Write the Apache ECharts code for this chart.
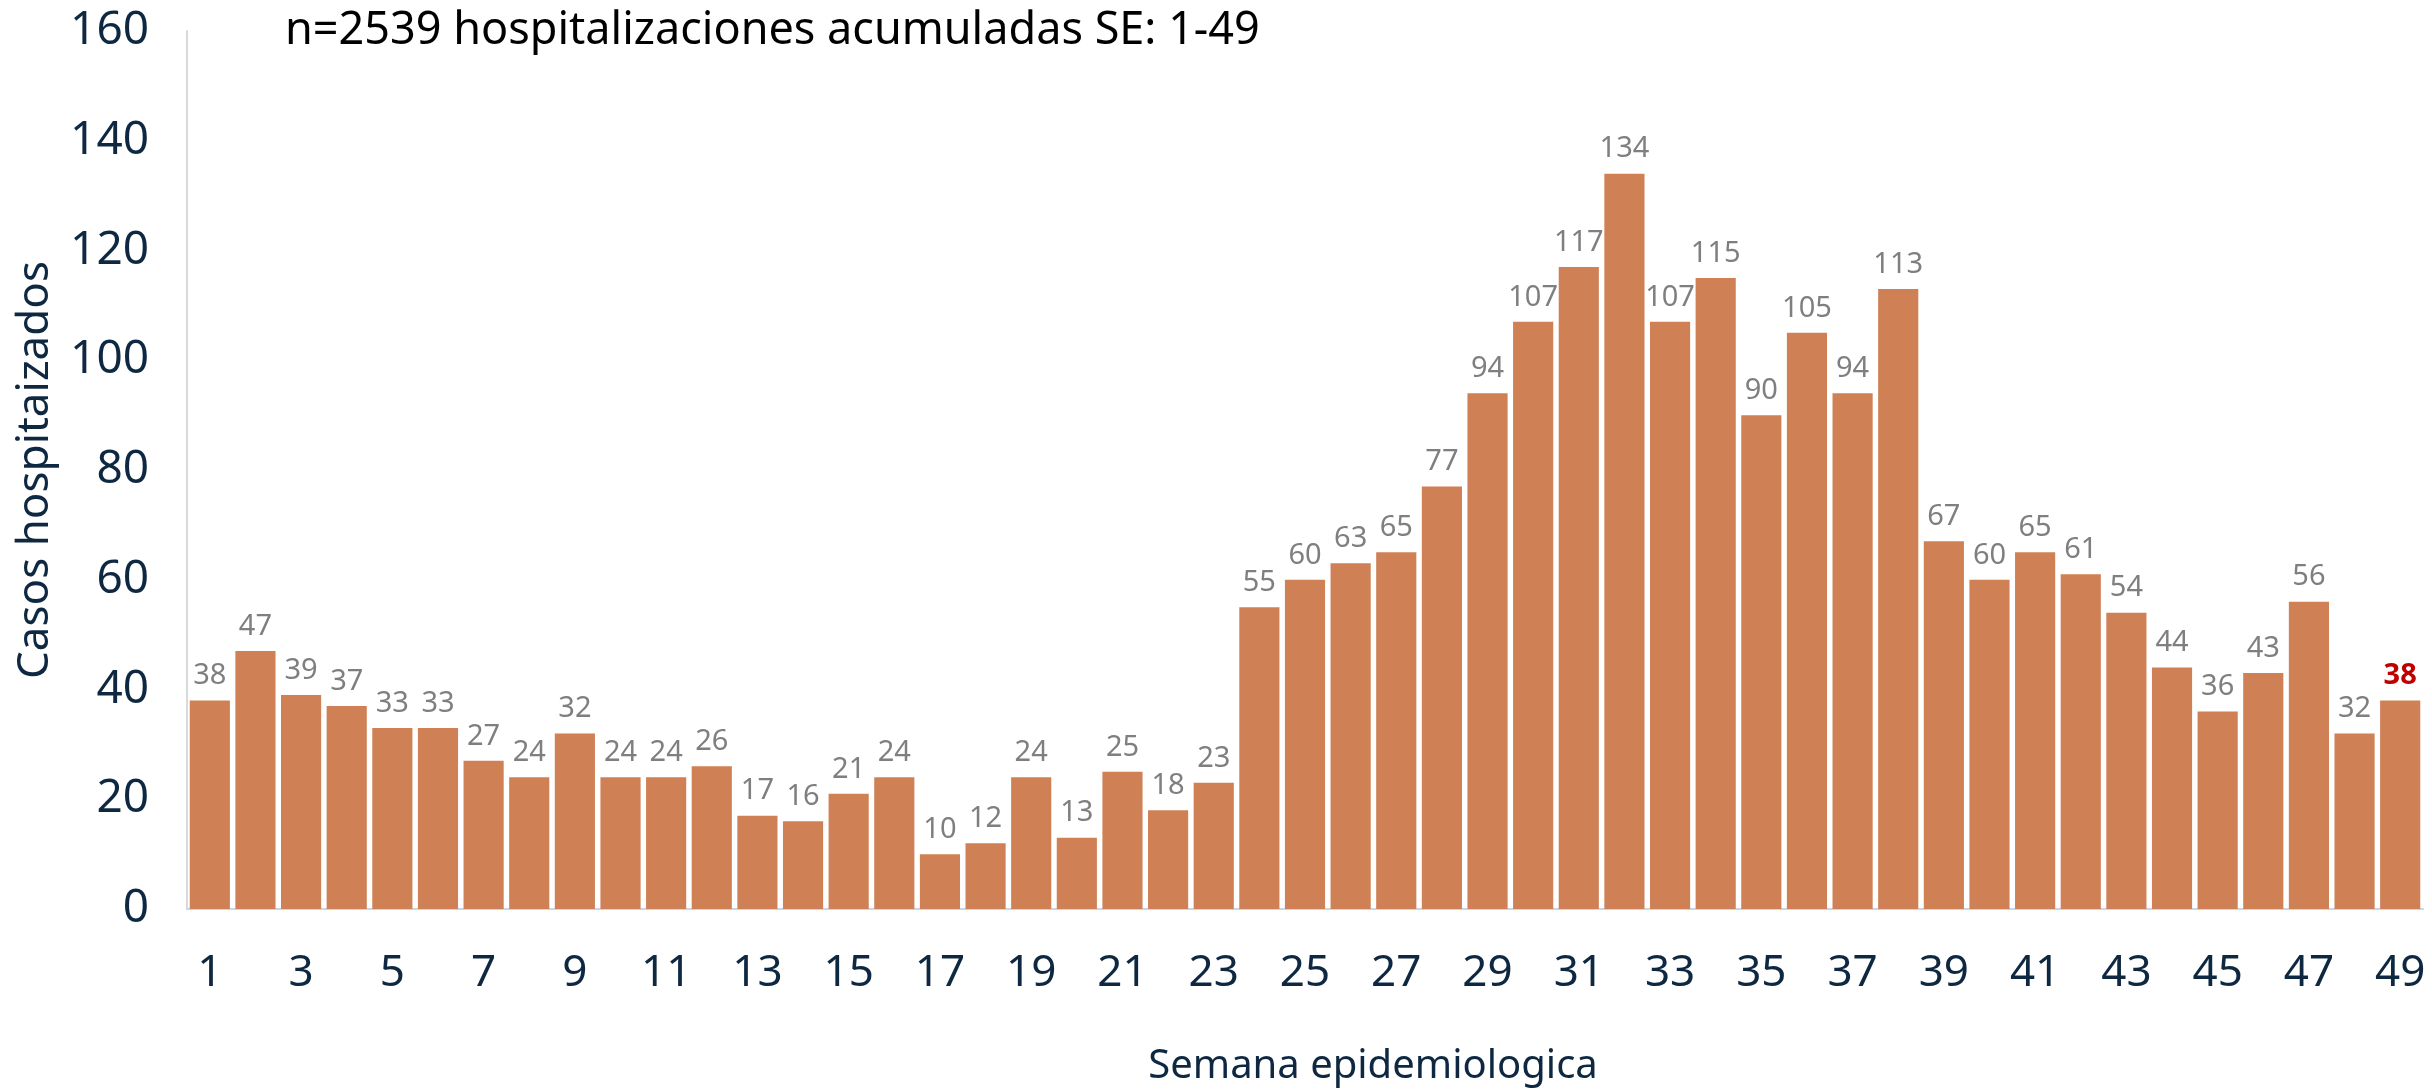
<!DOCTYPE html>
<html>
<head>
<meta charset="utf-8">
<script src="https://cdn.jsdelivr.net/npm/echarts@6/dist/echarts.min.js"></script>
<style>
  html, body { margin: 0; padding: 0; background: #fff; }
  #chart { width: 2432px; height: 1090px; }
</style>
</head>
<body>
<div id="chart"></div>
<script>
// semanas epidemiologicas 1-49
var weeks = [];
for (var i = 1; i <= 49; i++) weeks.push(String(i));

var casos = [38, 47, 39, 37, 33, 33, 27, 24, 32, 24,
             24, 26, 17, 16, 21, 24, 10, 12, 24, 13,
             25, 18, 23, 55, 60, 63, 65, 77, 94, 107,
             117, 134, 107, 115, 90, 105, 94, 113, 67, 60,
             65, 61, 54, 44, 36, 43, 56, 32, 38];

var titulo = 'n=2539 hospitalizaciones acumuladas SE: 1-49';
var fontFam = 'Noto Sans';

var mChart = echarts.init(document.getElementById('chart'));

// la ultima semana va en rojo y negrita
var barData = casos.map(function (v, idx) {
  if (idx === casos.length - 1) {
    return {
      value: v,
      label: { color: '#c00000', fontWeight: 'bold' }
    };
  }
  return v;
});

var option = {
  backgroundColor: '#fff',
  animation: false,
  textStyle: { fontFamily: fontFam },
  title: {
    text: titulo,
    left: 280,
    top: 4,
    textStyle: { fontSize: 45, fontWeight: 'normal', color: '#000', fontFamily: fontFam }
  },
  grid: {
    left: 187,
    right: 9,
    top: 31,
    bottom: 181,
    outerBoundsMode: 'none',
    containLabel: false
  },
  xAxis: {
    type: 'category',
    data: weeks,
    name: 'Semana epidemiologica',
    nameLocation: 'middle',
    nameGap: 138,
    nameTextStyle: { fontSize: 40, color: '#0e2841', padding: [0, 0, 0, 136] },
    axisLine: { lineStyle: { color: '#c5d7ee', width: 2 } },
    axisTick: { show: false },
    axisLabel: {
      interval: 1,
      fontSize: 44,
      color: '#0e2841',
      margin: 42
    }
  },
  yAxis: {
    type: 'value',
    min: 0,
    max: 160,
    interval: 20,
    name: 'Casos hospitaizados',
    nameLocation: 'middle',
    nameGap: 130,
    nameTextStyle: { fontSize: 44, color: '#0e2841' },
    axisLine: { show: true, lineStyle: { color: '#d9d9d9', width: 2 } },
    axisTick: { show: false },
    splitLine: { show: false },
    axisLabel: {
      fontSize: 46,
      color: '#0e2841',
      margin: 38
    }
  },
  series: [{
    type: 'bar',
    data: barData,
    barCategoryGap: '12%',
    itemStyle: { color: '#d08055' },
    label: {
      show: true,
      position: 'top',
      distance: 10,
      fontSize: 29,
      color: '#7f7f7f'
    }
  }]
};

mChart.setOption(option);
</script>
</body>
</html>
